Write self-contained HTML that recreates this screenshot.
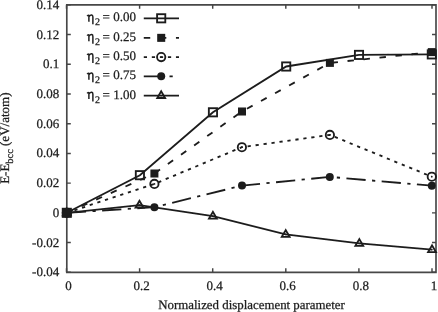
<!DOCTYPE html>
<html><head><meta charset="utf-8"><style>
html,body{margin:0;padding:0;background:#fff;}
svg{display:block;}
text{font-family:"Liberation Serif",serif;text-rendering:geometricPrecision;stroke:#1c1c1c;stroke-width:0.25px;font-size:13px;fill:#1c1c1c;}
</style></head><body>
<svg width="438" height="312" viewBox="0 0 438 312">
<defs><filter id="b" x="-5%" y="-5%" width="110%" height="110%"><feGaussianBlur stdDeviation="0.35"/></filter></defs>
<rect width="438" height="312" fill="#fff"/>
<g filter="url(#b)">
<path d="M66.8,4.8 L436.0,4.8 L436.0,272.3 L66.8,272.3 Z" fill="none" stroke="#474747" stroke-width="1.65"/>
<path d="M66.8,272.30 h4.0 M436.0,272.30 h-4.0" stroke="#444" stroke-width="1.45"/>
<path d="M66.8,242.58 h4.0 M436.0,242.58 h-4.0" stroke="#444" stroke-width="1.45"/>
<path d="M66.8,212.86 h4.0 M436.0,212.86 h-4.0" stroke="#444" stroke-width="1.45"/>
<path d="M66.8,183.13 h4.0 M436.0,183.13 h-4.0" stroke="#444" stroke-width="1.45"/>
<path d="M66.8,153.41 h4.0 M436.0,153.41 h-4.0" stroke="#444" stroke-width="1.45"/>
<path d="M66.8,123.69 h4.0 M436.0,123.69 h-4.0" stroke="#444" stroke-width="1.45"/>
<path d="M66.8,93.97 h4.0 M436.0,93.97 h-4.0" stroke="#444" stroke-width="1.45"/>
<path d="M66.8,64.24 h4.0 M436.0,64.24 h-4.0" stroke="#444" stroke-width="1.45"/>
<path d="M66.8,34.52 h4.0 M436.0,34.52 h-4.0" stroke="#444" stroke-width="1.45"/>
<path d="M66.8,4.80 h4.0 M436.0,4.80 h-4.0" stroke="#444" stroke-width="1.45"/>
<path d="M66.50,272.3 v-4.0 M66.50,4.8 v4.0" stroke="#444" stroke-width="1.45"/>
<path d="M139.60,272.3 v-4.0 M139.60,4.8 v4.0" stroke="#444" stroke-width="1.45"/>
<path d="M212.70,272.3 v-4.0 M212.70,4.8 v4.0" stroke="#444" stroke-width="1.45"/>
<path d="M285.80,272.3 v-4.0 M285.80,4.8 v4.0" stroke="#444" stroke-width="1.45"/>
<path d="M358.90,272.3 v-4.0 M358.90,4.8 v4.0" stroke="#444" stroke-width="1.45"/>
<path d="M432.00,272.3 v-4.0 M432.00,4.8 v4.0" stroke="#444" stroke-width="1.45"/>
<text x="59.2" y="276.30" text-anchor="end">-0.04</text>
<text x="59.2" y="246.58" text-anchor="end">-0.02</text>
<text x="59.2" y="216.86" text-anchor="end">0</text>
<text x="59.2" y="187.13" text-anchor="end">0.02</text>
<text x="59.2" y="157.41" text-anchor="end">0.04</text>
<text x="59.2" y="127.69" text-anchor="end">0.06</text>
<text x="59.2" y="97.97" text-anchor="end">0.08</text>
<text x="59.2" y="68.24" text-anchor="end">0.1</text>
<text x="59.2" y="38.52" text-anchor="end">0.12</text>
<text x="59.2" y="8.80" text-anchor="end">0.14</text>
<text x="68.40" y="289.6" text-anchor="middle">0</text>
<text x="141.50" y="289.6" text-anchor="middle">0.2</text>
<text x="214.60" y="289.6" text-anchor="middle">0.4</text>
<text x="287.70" y="289.6" text-anchor="middle">0.6</text>
<text x="360.80" y="289.6" text-anchor="middle">0.8</text>
<text x="433.90" y="289.6" text-anchor="middle">1</text>
<text x="251.55" y="308.7" text-anchor="middle" style="font-size:12.88px">Normalized displacement parameter</text>
<text transform="translate(9.2,138.2) rotate(-90)" text-anchor="middle">E-E<tspan font-size="10.4" dy="4.2">bcc</tspan><tspan dy="-4.2"> (eV/atom)</tspan></text>
<polyline points="66.80,212.80 139.90,175.20 212.95,112.30 286.20,66.50 359.00,54.90 431.80,54.40" fill="none" stroke="#1c1c1c" stroke-width="1.85"/>
<rect x="62.70" y="208.70" width="8.20" height="8.20" fill="none" stroke="#1c1c1c" stroke-width="1.85"/>
<rect x="135.80" y="171.10" width="8.20" height="8.20" fill="none" stroke="#1c1c1c" stroke-width="1.85"/>
<rect x="208.85" y="108.20" width="8.20" height="8.20" fill="none" stroke="#1c1c1c" stroke-width="1.85"/>
<rect x="282.10" y="62.40" width="8.20" height="8.20" fill="none" stroke="#1c1c1c" stroke-width="1.85"/>
<rect x="354.90" y="50.80" width="8.20" height="8.20" fill="none" stroke="#1c1c1c" stroke-width="1.85"/>
<rect x="427.70" y="50.30" width="8.20" height="8.20" fill="none" stroke="#1c1c1c" stroke-width="1.85"/>
<polyline points="66.80,212.80 154.40,173.50 242.00,111.50 329.90,62.90 431.80,52.10" fill="none" stroke="#1c1c1c" stroke-width="1.85" stroke-dasharray="6.43 9.645"/>
<rect x="62.80" y="208.80" width="8.00" height="8.00" fill="#1c1c1c"/>
<rect x="150.40" y="169.50" width="8.00" height="8.00" fill="#1c1c1c"/>
<rect x="238.00" y="107.50" width="8.00" height="8.00" fill="#1c1c1c"/>
<rect x="325.90" y="58.90" width="8.00" height="8.00" fill="#1c1c1c"/>
<rect x="427.80" y="48.10" width="8.00" height="8.00" fill="#1c1c1c"/>
<polyline points="66.80,212.80 154.40,183.90 241.90,147.20 329.90,134.90 431.80,176.70" fill="none" stroke="#1c1c1c" stroke-width="1.85" stroke-dasharray="3.215 4.8225"/>
<circle cx="66.80" cy="212.80" r="4.15" fill="none" stroke="#1c1c1c" stroke-width="1.85"/><circle cx="66.80" cy="212.80" r="0.9" fill="#1c1c1c"/>
<circle cx="154.40" cy="183.90" r="4.15" fill="none" stroke="#1c1c1c" stroke-width="1.85"/><circle cx="154.40" cy="183.90" r="0.9" fill="#1c1c1c"/>
<circle cx="241.90" cy="147.20" r="4.15" fill="none" stroke="#1c1c1c" stroke-width="1.85"/><circle cx="241.90" cy="147.20" r="0.9" fill="#1c1c1c"/>
<circle cx="329.90" cy="134.90" r="4.15" fill="none" stroke="#1c1c1c" stroke-width="1.85"/><circle cx="329.90" cy="134.90" r="0.9" fill="#1c1c1c"/>
<circle cx="431.80" cy="176.70" r="4.15" fill="none" stroke="#1c1c1c" stroke-width="1.85"/><circle cx="431.80" cy="176.70" r="0.9" fill="#1c1c1c"/>
<polyline points="66.80,212.80 154.40,207.20 242.00,185.60 329.80,176.90 431.80,185.70" fill="none" stroke="#1c1c1c" stroke-width="1.85" stroke-dasharray="19.29 6.43 3.215 6.43"/>
<circle cx="66.80" cy="212.80" r="4.00" fill="#1c1c1c"/>
<circle cx="154.40" cy="207.20" r="4.00" fill="#1c1c1c"/>
<circle cx="242.00" cy="185.60" r="4.00" fill="#1c1c1c"/>
<circle cx="329.80" cy="176.90" r="4.00" fill="#1c1c1c"/>
<circle cx="431.80" cy="185.70" r="4.00" fill="#1c1c1c"/>
<polyline points="66.80,212.80 139.50,205.10 212.90,216.20 285.70,234.40 359.30,243.40 432.00,249.70" fill="none" stroke="#1c1c1c" stroke-width="1.85"/>
<path d="M66.80,208.50 L62.90,215.20 L70.70,215.20 Z" fill="none" stroke="#1c1c1c" stroke-width="1.85" stroke-linejoin="miter"/><circle cx="66.80" cy="212.80" r="0.8" fill="#1c1c1c"/>
<path d="M139.50,200.80 L135.60,207.50 L143.40,207.50 Z" fill="none" stroke="#1c1c1c" stroke-width="1.85" stroke-linejoin="miter"/><circle cx="139.50" cy="205.10" r="0.8" fill="#1c1c1c"/>
<path d="M212.90,211.90 L209.00,218.60 L216.80,218.60 Z" fill="none" stroke="#1c1c1c" stroke-width="1.85" stroke-linejoin="miter"/><circle cx="212.90" cy="216.20" r="0.8" fill="#1c1c1c"/>
<path d="M285.70,230.10 L281.80,236.80 L289.60,236.80 Z" fill="none" stroke="#1c1c1c" stroke-width="1.85" stroke-linejoin="miter"/><circle cx="285.70" cy="234.40" r="0.8" fill="#1c1c1c"/>
<path d="M359.30,239.10 L355.40,245.80 L363.20,245.80 Z" fill="none" stroke="#1c1c1c" stroke-width="1.85" stroke-linejoin="miter"/><circle cx="359.30" cy="243.40" r="0.8" fill="#1c1c1c"/>
<path d="M432.00,245.40 L428.10,252.10 L435.90,252.10 Z" fill="none" stroke="#1c1c1c" stroke-width="1.85" stroke-linejoin="miter"/><circle cx="432.00" cy="249.70" r="0.8" fill="#1c1c1c"/>
<path d="M143.8,18.3 H179.0" fill="none" stroke="#1c1c1c" stroke-width="1.85"/>
<rect x="157.10" y="14.20" width="8.20" height="8.20" fill="none" stroke="#1c1c1c" stroke-width="1.85"/>
<path d="M87.2,16.10 Q87.8,14.90 88.9,15.50 L88.9,21.70 M88.9,16.70 Q90.4,14.80 91.8,15.00 Q92.9,15.30 92.9,16.90 L92.9,24.20" fill="none" stroke="#1c1c1c" stroke-width="1.45"/>
<text x="94.9" y="25.40" style="font-size:10.0px">2</text>
<text x="135.9" y="21.45" text-anchor="end">= 0.00</text>
<path d="M143.8,37.85 H179.0" fill="none" stroke="#1c1c1c" stroke-width="1.85" stroke-dasharray="6.43 9.645"/>
<rect x="157.20" y="33.85" width="8.00" height="8.00" fill="#1c1c1c"/>
<path d="M87.2,35.65 Q87.8,34.45 88.9,35.05 L88.9,41.25 M88.9,36.25 Q90.4,34.35 91.8,34.55 Q92.9,34.85 92.9,36.45 L92.9,43.75" fill="none" stroke="#1c1c1c" stroke-width="1.45"/>
<text x="94.9" y="44.95" style="font-size:10.0px">2</text>
<text x="135.9" y="41.00" text-anchor="end">= 0.25</text>
<path d="M143.8,57.1 H179.0" fill="none" stroke="#1c1c1c" stroke-width="1.85" stroke-dasharray="3.215 4.8225"/>
<circle cx="161.20" cy="57.10" r="4.15" fill="none" stroke="#1c1c1c" stroke-width="1.85"/><circle cx="161.20" cy="57.10" r="0.9" fill="#1c1c1c"/>
<path d="M87.2,54.90 Q87.8,53.70 88.9,54.30 L88.9,60.50 M88.9,55.50 Q90.4,53.60 91.8,53.80 Q92.9,54.10 92.9,55.70 L92.9,63.00" fill="none" stroke="#1c1c1c" stroke-width="1.45"/>
<text x="94.9" y="64.20" style="font-size:10.0px">2</text>
<text x="135.9" y="60.25" text-anchor="end">= 0.50</text>
<path d="M143.8,76.3 H179.0" fill="none" stroke="#1c1c1c" stroke-width="1.85" stroke-dasharray="19.29 6.43 3.215 6.43"/>
<circle cx="161.20" cy="76.30" r="4.00" fill="#1c1c1c"/>
<path d="M87.2,74.10 Q87.8,72.90 88.9,73.50 L88.9,79.70 M88.9,74.70 Q90.4,72.80 91.8,73.00 Q92.9,73.30 92.9,74.90 L92.9,82.20" fill="none" stroke="#1c1c1c" stroke-width="1.45"/>
<text x="94.9" y="83.40" style="font-size:10.0px">2</text>
<text x="135.9" y="79.45" text-anchor="end">= 0.75</text>
<path d="M143.8,95.6 H179.0" fill="none" stroke="#1c1c1c" stroke-width="1.85"/>
<path d="M161.20,91.30 L157.30,98.00 L165.10,98.00 Z" fill="none" stroke="#1c1c1c" stroke-width="1.85" stroke-linejoin="miter"/><circle cx="161.20" cy="95.60" r="0.8" fill="#1c1c1c"/>
<path d="M87.2,93.40 Q87.8,92.20 88.9,92.80 L88.9,99.00 M88.9,94.00 Q90.4,92.10 91.8,92.30 Q92.9,92.60 92.9,94.20 L92.9,101.50" fill="none" stroke="#1c1c1c" stroke-width="1.45"/>
<text x="94.9" y="102.70" style="font-size:10.0px">2</text>
<text x="135.9" y="98.75" text-anchor="end">= 1.00</text>
</g>
</svg>
</body></html>
